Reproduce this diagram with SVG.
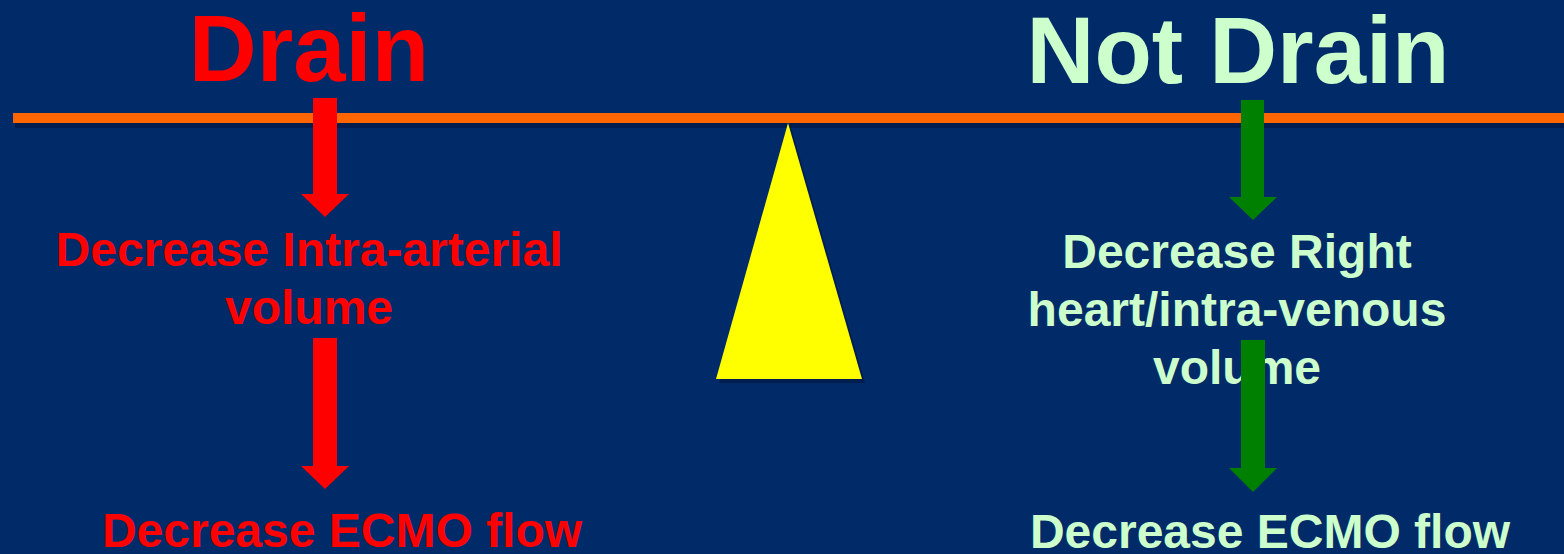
<svg xmlns="http://www.w3.org/2000/svg" width="1564" height="554" viewBox="0 0 1564 554">
  <defs>
    <style>
      .t { font-family: "Liberation Sans", Arial, sans-serif; font-weight: bold; text-anchor: middle; }
      .title { font-size: 94px; }
      .lbl { font-size: 48px; }
      .red { fill: #ff0000; }
      .grn { fill: #ccffcc; }
      .ar-red { fill: #ff0000; }
      .ar-grn { fill: #008000; }
      .shadow { fill: #001a48; opacity: 0.8; }
    </style>
  </defs>
  <rect x="0" y="0" width="1564" height="554" fill="#002a68"/>

  <g id="beam">
    <rect class="shadow" x="15" y="123" width="1549" height="5"/>
    <rect x="13" y="113" width="1551" height="10" fill="#ff6600"/>
  </g>

  <g id="fulcrum">
    <polygon class="shadow" points="791,127 865,383 719,383"/>
    <polygon points="788,123 862,379 716,379" fill="#ffff00"/>
  </g>

  <g id="drain-title">
    <text class="t title red" x="309" y="81">Drain</text>
  </g>
  <g id="not-drain-title">
    <text class="t title grn" x="1238" y="83">Not Drain</text>
  </g>

  <g id="drain-step1">
    <text class="t lbl red" x="309" y="266">Decrease Intra-arterial</text>
    <text class="t lbl red" x="309" y="324">volume</text>
  </g>
  <g id="drain-step2">
    <text class="t lbl red" x="342" y="547">Decrease ECMO flow</text>
  </g>

  <g id="notdrain-step1">
    <text class="t lbl grn" x="1237" y="268">Decrease Right</text>
    <text class="t lbl grn" x="1237" y="326">heart/intra-venous</text>
    <text class="t lbl grn" x="1237" y="384">volume</text>
  </g>
  <g id="notdrain-step2">
    <text class="t lbl grn" x="1270" y="548">Decrease ECMO flow</text>
  </g>

  <g id="connectors">
    <polygon class="ar-red" points="313,98 337,98 337,194 349,194 325,217 301,194 313,194"/>
    <polygon class="ar-red" points="313,338 337,338 337,466 349,466 325,489 301,466 313,466"/>
    <polygon class="ar-grn" points="1241,100 1264,100 1264,197 1277,197 1253,220 1229,197 1241,197"/>
    <polygon class="ar-grn" points="1241,340 1265,340 1265,468 1277,468 1253,492 1229,468 1241,468"/>
  </g>
</svg>
